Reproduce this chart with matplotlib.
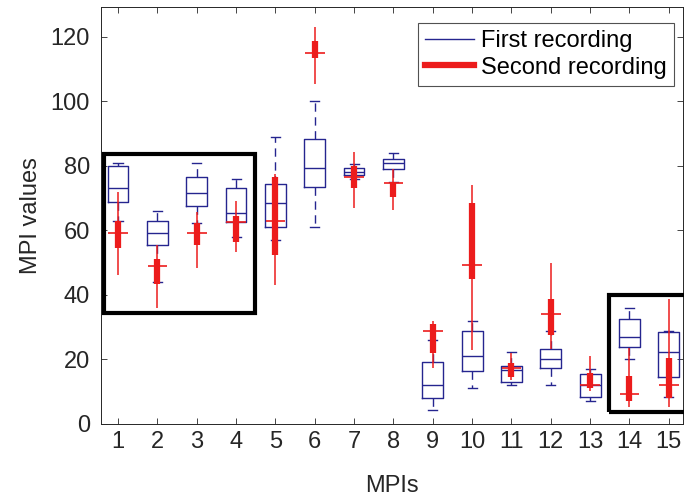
import matplotlib.pyplot as plt
from matplotlib.lines import Line2D
from matplotlib.patches import Rectangle

plt.rcParams['font.family'] = ['Liberation Sans', 'DejaVu Sans']

mpis = list(range(1, 16))

# first recording (blue boxes): lower whisker, q1, median, q3, upper whisker
first_lo = [63.0, 44.0, 62.4, 58.1, 57.1, 61.2, 76.0, 75.0, 4.3, 11.1, 12.1, 12.1, 7.2, 20.1, 8.4]
first_q1 = [68.9, 55.5, 67.6, 62.5, 61.2, 73.6, 77.2, 79.2, 8.0, 16.5, 13.1, 17.5, 8.3, 24.0, 14.7]
first_med = [73.1, 59.3, 71.5, 65.3, 68.4, 79.3, 78.2, 80.8, 12.1, 21.2, 16.7, 20.2, 12.1, 27.1, 22.4]
first_q3 = [80.0, 63.0, 76.5, 73.1, 74.3, 88.3, 79.3, 82.2, 19.3, 28.9, 18.1, 23.2, 15.4, 32.6, 28.6]
first_hi = [80.8, 66.1, 81.0, 76.1, 89.1, 100.2, 80.5, 83.9, 26.0, 32.0, 22.4, 28.9, 17.0, 36.1, 28.8]

# second recording (red compact boxes)
second_lo = [46.2, 35.9, 48.3, 53.4, 43.1, 105.4, 67.1, 66.4, 17.3, 22.9, 13.6, 23.2, 10.3, 5.4, 5.4]
second_q1 = [54.5, 43.4, 55.5, 56.5, 52.4, 113.6, 73.1, 70.5, 22.1, 45.0, 14.7, 27.6, 11.1, 7.2, 8.0]
second_med = [59.3, 49.1, 59.3, 62.5, 63.0, 114.9, 76.5, 74.6, 28.8, 49.3, 17.3, 34.1, 12.1, 9.2, 12.1]
second_q3 = [63.0, 51.1, 62.4, 64.5, 76.7, 118.9, 80.0, 75.0, 31.0, 68.4, 19.0, 38.7, 15.9, 14.9, 20.4]
second_hi = [72.0, 55.5, 65.8, 69.1, 77.5, 123.0, 84.2, 79.0, 32.0, 74.1, 21.9, 50.0, 21.1, 23.5, 38.7]

blue = '#25258f'
red = '#ec1c1c'
txt = '#262626'

fig = plt.figure(figsize=(6.84, 4.99), dpi=100)
ax = fig.add_axes([101 / 684, 75 / 499, 582 / 684, 417 / 499])

stats = []
for i in range(len(mpis)):
    stats.append({'whislo': first_lo[i], 'q1': first_q1[i], 'med': first_med[i],
                  'q3': first_q3[i], 'whishi': first_hi[i]})

ax.bxp(stats, positions=mpis, widths=0.53, capwidths=0.23, showfliers=False,
       boxprops={'color': blue, 'linewidth': 1.0},
       whiskerprops={'color': blue, 'linewidth': 1.0, 'linestyle': (0, (6, 4))},
       capprops={'color': blue, 'linewidth': 1.0},
       medianprops={'color': blue, 'linewidth': 1.0}, manage_ticks=False)

# compact style for the second recording
ax.vlines(mpis, second_lo, second_hi, color=red, linewidth=1.1, zorder=4)
ax.vlines(mpis, second_q1, second_q3, color=red, linewidth=4.5, zorder=4)
ax.hlines(second_med, [m - 0.25 for m in mpis], [m + 0.25 for m in mpis],
          color=red, linewidth=1.2, zorder=4)

# highlight boxes
ax.add_patch(Rectangle((0.64, 34.3), 3.84, 49.3, fill=False, edgecolor='black',
                       linewidth=3, zorder=5))
ax.add_patch(Rectangle((13.48, 3.8), 2.2, 36.2, fill=False, edgecolor='black',
                       linewidth=3, zorder=5, clip_on=False))

ax.set_xlim(0.568, 15.36)
ax.set_ylim(0, 129.3)
ax.set_xticks(mpis)
ax.set_yticks(range(0, 121, 20))
ax.tick_params(direction='in', top=True, right=True, length=4, width=0.6,
               labelsize=17, colors=txt)
ax.tick_params(axis='y', pad=8)
ax.tick_params(axis='x', pad=5)
for s in ax.spines.values():
    s.set_color(txt)
    s.set_linewidth(0.7)

ax.set_xlabel('MPIs', fontsize=17, color=txt, labelpad=16)
ax.set_ylabel('MPI values', fontsize=17, color=txt, labelpad=6)

handles = [Line2D([], [], color=blue, linewidth=1.0),
           Line2D([], [], color=red, linewidth=4.5)]
leg = ax.legend(handles, ['First recording', 'Second recording'],
                loc='upper right', bbox_to_anchor=(0.985, 0.962), fontsize=17,
                frameon=True, fancybox=False, edgecolor=txt,
                handlelength=2.1, handletextpad=0.3, borderpad=0.3,
                labelspacing=0.2, borderaxespad=0)
leg.get_frame().set_linewidth(0.8)

fig.savefig('out.png', dpi=100)
